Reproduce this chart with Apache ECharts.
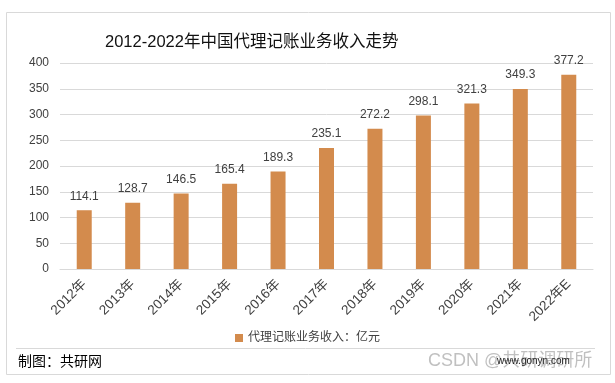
<!DOCTYPE html>
<html><head><meta charset="utf-8">
<script src="https://cdn.jsdelivr.net/npm/echarts@6/dist/echarts.min.js"></script>
<style>html,body{margin:0;padding:0;background:#fff}#c{width:615px;height:383px}</style>
</head><body><div id="c"></div>
<script>
const categories = ['2012年','2013年','2014年','2015年','2016年','2017年','2018年','2019年','2020年','2021年','2022年E'];
const values = [114.1,128.7,146.5,165.4,189.3,235.1,272.2,298.1,321.3,349.3,377.2];
const seriesName = '代理记账业务收入：亿元';
const titleText = '2012-2022年中国代理记账业务收入走势';
const FF = '"Liberation Sans", "Noto Sans CJK SC", sans-serif';
const chart = echarts.init(document.getElementById('c'));
chart.setOption({
  animation: false,
  textStyle: {fontFamily: FF},
  title: {text: titleText, left: 100, top: 29, textStyle: {fontSize: 16.5, fontWeight: 'normal', color: '#111', fontFamily: FF}},
  grid: {left: 60, right: 22, top: 63, bottom: 114, containLabel: false},
  legend: {data: [seriesName], left: 'center', top: 327, itemWidth: 8, itemHeight: 8, icon: 'rect', itemGap: 4,
    textStyle: {fontSize: 12, color: '#404040', fontFamily: FF}},
  xAxis: {type: 'category', data: categories,
    axisLine: {show: true, lineStyle: {color: '#d9d9d9'}}, axisTick: {show: false},
    axisLabel: {rotate: 45, fontSize: 13.5, color: '#404040', margin: 13, interval: 0, fontFamily: FF}},
  yAxis: {type: 'value', min: 0, max: 400, interval: 50,
    axisLine: {show: false}, axisTick: {show: false},
    splitLine: {lineStyle: {color: '#d9d9d9'}},
    axisLabel: {fontSize: 12, color: '#404040', margin: 11, fontFamily: FF}},
  series: [{name: seriesName, type: 'bar', data: values, barWidth: 15,
    itemStyle: {color: '#D38B4D'},
    label: {show: true, position: 'top', distance: 8, fontSize: 12, color: '#404040', fontFamily: FF}}],
  graphic: [
    {type: 'rect', shape: {x: 6.5, y: 12.5, width: 604, height: 362}, style: {fill: 'none', stroke: '#d9d9d9', lineWidth: 1}, silent: true},
    {type: 'line', shape: {x1: 16, y1: 348.5, x2: 595, y2: 348.5}, style: {stroke: '#d9d9d9', lineWidth: 1}},
    {type: 'text', left: 18, top: 355, style: {text: '制图：共研网', fontSize: 14, fill: '#000', fontFamily: FF}},
    {type: 'text', left: 428, top: 352, style: {text: 'CSDN @共研调研所', fontSize: 18, fill: 'rgba(140,140,140,0.55)', fontFamily: FF}},
    {type: 'text', left: 497, top: 356, style: {text: 'www.gonyn.com', fontSize: 10, fill: '#222', fontFamily: FF}}
  ]
});
</script></body></html>
